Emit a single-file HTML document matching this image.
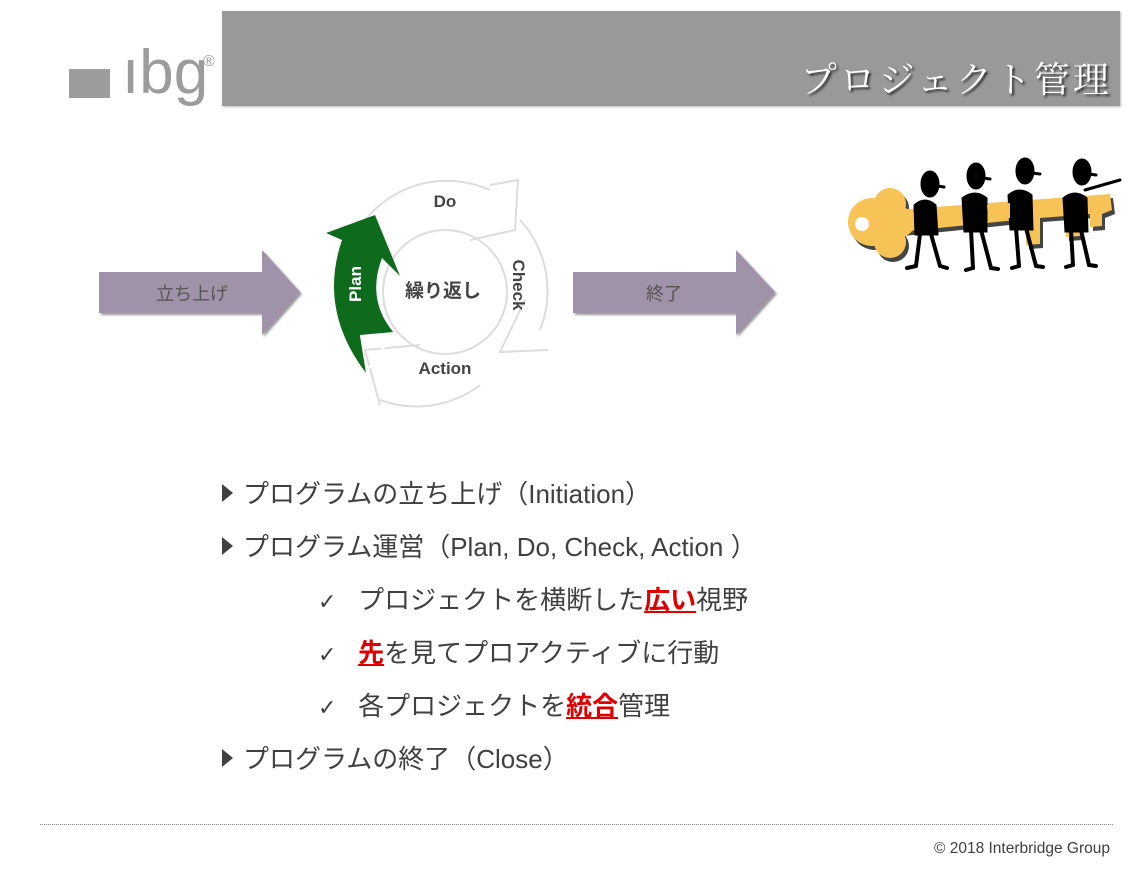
<!DOCTYPE html>
<html><head><meta charset="utf-8">
<style>
html,body{margin:0;padding:0;background:#fff;}
body{width:1144px;height:869px;position:relative;overflow:hidden;font-family:"Liberation Sans","Noto Sans CJK JP",sans-serif;}
.abs{position:absolute;}
.banner{left:222px;top:11px;width:898px;height:95px;background:#999;box-shadow:1px 1px 2px #bbb;}
.title{right:32px;top:56px;font-family:"Liberation Serif","Noto Serif CJK SC",serif;font-size:36px;color:#fff;letter-spacing:3px;text-shadow:2px 2px 2px #333;line-height:48px;white-space:nowrap;}
.logo{left:69px;top:69px;width:41px;height:29px;background:#9c9c9c;}
.ibg{left:122px;top:38px;font-size:62px;color:#9c9c9c;line-height:70px;letter-spacing:0px;font-family:"Liberation Sans",sans-serif;}
.reg{left:203px;top:53px;font-size:16px;color:#9c9c9c;font-family:"Liberation Sans",sans-serif;}
.b{left:222px;font-size:26px;color:#404040;line-height:34px;white-space:nowrap;}
.b .tri{display:inline-block;width:0;height:0;border-left:11px solid #404040;border-top:9px solid transparent;border-bottom:9px solid transparent;margin-right:10px;vertical-align:1px;}
.c{left:318px;font-size:26px;color:#404040;line-height:34px;white-space:nowrap;}
.ck{font-family:"DejaVu Sans",sans-serif;font-size:22px;}
.red{color:#e00000;font-weight:bold;text-decoration:underline;}
.foot{left:40px;top:824px;width:1073px;border-top:1px dotted #888;}
.copy{right:34px;top:840px;font-size:15.5px;color:#404040;}
</style></head><body>
<div class="abs banner"></div>
<div class="abs title">プロジェクト管理</div>
<div class="abs logo"></div>
<div class="abs ibg">ıbg</div>
<div class="abs reg">®</div>

<svg class="abs" style="left:0;top:0" width="1144" height="460" viewBox="0 0 1144 460">
  <defs><filter id="sh" x="-10%" y="-10%" width="130%" height="130%"><feDropShadow dx="2" dy="2" stdDeviation="1" flood-color="#555" flood-opacity="0.6"/></filter></defs>
  <polygon points="99,272 262,272 262,250 300,292 262,335 262,313 99,313" fill="#a092a8" filter="url(#sh)"/>
  <text x="192" y="300" font-size="18" fill="#555" text-anchor="middle" font-family="Liberation Sans,Noto Sans CJK JP,sans-serif">立ち上げ</text>
  <polygon points="573,272 736,272 736,250 775,292 736,335 736,313 573,313" fill="#a092a8" filter="url(#sh)"/>
  <text x="664" y="300" font-size="18" fill="#555" text-anchor="middle" font-family="Liberation Sans,Noto Sans CJK JP,sans-serif">終了</text>

  <!-- gray cycle -->
  <g fill="none" stroke="#dcdcdc" stroke-width="2">
    <path d="M358,230 A105,105 0 0 1 490,190"/>
    <path d="M520,220 A105,105 0 0 1 540,330"/>
    <path d="M480,385 A105,105 0 0 1 380,400"/>
    <circle cx="445" cy="292" r="62"/>
    <polyline points="490,185 518,180 515,230 470,240"/>
    <polyline points="548,350 500,352 525,300"/>
    <polyline points="380,405 365,350 420,345"/>
  </g>
  <!-- green plan arrow -->
  <path d="M366,373 Q318,310 342,240 L326,233 L375,215 L400,276 L382,258 Q366,300 394,333 L360,336 Z" fill="#0e6b1c"/>
  <polyline points="360,336 394,333 366,372" fill="none" stroke="#fff" stroke-width="2"/>
  <text transform="translate(361,284) rotate(-90)" font-size="17" font-weight="bold" fill="#fff" text-anchor="middle" font-family="Liberation Sans,sans-serif">Plan</text>
  <text x="445" y="207" font-size="17" font-weight="bold" fill="#444" text-anchor="middle" font-family="Liberation Sans,sans-serif">Do</text>
  <text transform="translate(513,285) rotate(90)" font-size="17" font-weight="bold" fill="#444" text-anchor="middle" font-family="Liberation Sans,sans-serif">Check</text>
  <text x="445" y="374" font-size="17" font-weight="bold" fill="#444" text-anchor="middle" font-family="Liberation Sans,sans-serif">Action</text>
  <text x="443" y="297" font-size="19" font-weight="bold" fill="#444" text-anchor="middle" font-family="Liberation Sans,Noto Sans CJK JP,sans-serif">繰り返し</text>

  <!-- key shadow + key -->
  <g fill="#444" transform="translate(3,4)">
    <circle cx="872" cy="222" r="24"/><circle cx="890" cy="204" r="16"/><circle cx="890" cy="242" r="16"/>
    <polygon points="895,210 1110,194 1112,210 1102,214 1102,226 1090,227 1090,214 1080,215 1080,236 1066,237 1066,216 1040,218 1040,244 1026,245 1026,219 900,232"/>
  </g>
  <g fill="#f7c256">
    <circle cx="872" cy="222" r="24"/><circle cx="890" cy="204" r="16"/><circle cx="890" cy="242" r="16"/><circle cx="900" cy="222" r="15"/>
    <polygon points="895,210 1110,194 1112,210 1102,214 1102,226 1090,227 1090,214 1080,215 1080,236 1066,237 1066,216 1040,218 1040,244 1026,245 1026,219 900,232"/>
  </g>
  <circle cx="862" cy="224" r="7" fill="#fff"/>
  <!-- figures -->
  <g fill="#000" stroke="#000" stroke-linecap="round">
    <g><ellipse cx="930" cy="184" rx="9" ry="13"/><path d="M937,186 l7,1" stroke-width="3"/><path d="M914,205 Q925,195 936,205 L938,235 L915,235 Z"/><path d="M920,234 L916,266 M931,234 L940,266 M916,266 l-9,2 M940,266 l7,2" stroke-width="4" fill="none"/></g>
    <g><ellipse cx="976" cy="176" rx="9" ry="13"/><path d="M983,178 l7,1" stroke-width="3"/><path d="M962,198 Q975,188 987,198 L987,232 L964,232 Z"/><path d="M971,230 L973,268 M981,230 L991,268 M973,268 l-7,2 M991,268 l7,1" stroke-width="4" fill="none"/></g>
    <g><ellipse cx="1025" cy="171" rx="9" ry="13"/><path d="M1032,173 l8,1" stroke-width="3"/><path d="M1008,195 Q1020,185 1032,195 L1033,230 L1010,230 Z"/><path d="M1016,228 L1019,266 M1026,228 L1036,266 M1019,266 l-7,2 M1036,266 l7,1" stroke-width="4" fill="none"/></g>
    <g><ellipse cx="1082" cy="172" rx="9" ry="13"/><path d="M1089,174 l7,1 M1085,190 L1120,180" stroke-width="3"/><path d="M1063,198 Q1075,188 1087,198 L1088,232 L1065,232 Z"/><path d="M1071,230 L1073,265 M1081,230 L1089,265 M1073,265 l-7,2 M1089,265 l7,1" stroke-width="4" fill="none"/></g>
  </g>
  <g fill="#f7c256">
    <polygon points="937,209 962,207 962,221 938,223"/>
    <polygon points="987,205 1010,203 1010,218 988,219"/>
    <polygon points="1033,202 1060,200 1060,214 1034,215"/>
  </g>
</svg>

<div class="abs b" style="top:477px"><span class="tri"></span>プログラムの立ち上げ（Initiation）</div>
<div class="abs b" style="top:530px"><span class="tri"></span>プログラム運営（Plan, Do, Check, Action ）</div>
<div class="abs c" style="top:583px"><span class="ck">✓</span>&nbsp;&nbsp;&nbsp;プロジェクトを横断した<span class="red">広い</span>視野</div>
<div class="abs c" style="top:636px"><span class="ck">✓</span>&nbsp;&nbsp;&nbsp;<span class="red">先</span>を見てプロアクティブに行動</div>
<div class="abs c" style="top:689px"><span class="ck">✓</span>&nbsp;&nbsp;&nbsp;各プロジェクトを<span class="red">統合</span>管理</div>
<div class="abs b" style="top:742px"><span class="tri"></span>プログラムの終了（Close）</div>

<div class="abs foot"></div>
<div class="abs copy">© 2018 Interbridge Group</div>
</body></html>
